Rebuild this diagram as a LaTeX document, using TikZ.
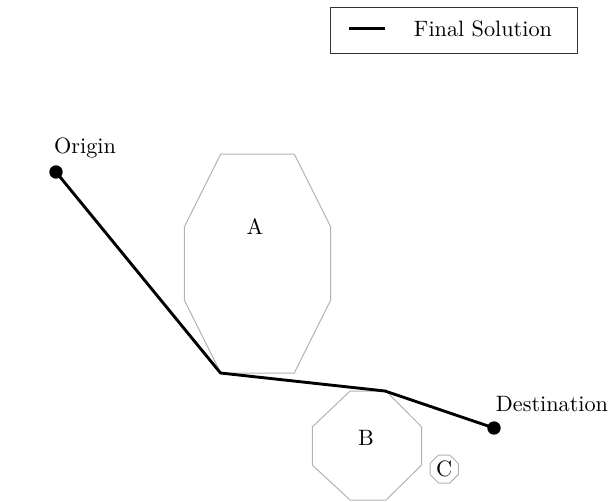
\documentclass[tikz,border=0pt]{standalone}
\begin{document}
\begin{tikzpicture}[x=0.45pt,y=-0.45pt,
  obstacle/.style={draw=black!30, line width=0.45pt},
  solution/.style={line width=1.3pt, line join=round},
  waypoint/.style={circle, fill=black, inner sep=0pt, minimum size=6pt},
  lbl/.style={inner sep=0pt, font=\normalsize}]
\useasboundingbox (0,0) rectangle (611,501);
% legend
\node[draw=black!80, line width=0.45pt, minimum width=246.6*0.45pt, minimum height=46*0.45pt, inner sep=0pt] (legend) at (454,30.3) {};
\coordinate (l1) at (349.3,28.5);
\coordinate (l2) at (385,28.5);
\draw[solution] (l1) -- (l2);
\node[lbl] (legtext) at (483,29) {Final Solution};
% obstacles
\draw[obstacle] (220.7,154) -- (294.3,154) -- (330.7,227) -- (330.7,300) -- (294.3,373) -- (220.7,373) -- (184.3,300) -- (184.3,227) -- cycle;
\node[lbl] (A) at (255,227) {A};
\draw[obstacle] (350,391) -- (386,391) -- (421.7,427) -- (421.7,465) -- (386,500) -- (350,500) -- (312.3,465) -- (312.3,427) -- cycle;
\node[lbl] (B) at (366,438) {B};
\draw[obstacle] (438.5,455) -- (449.8,455) -- (458.3,463.5) -- (458.3,474.5) -- (449.8,483) -- (438.5,483) -- (430,474.5) -- (430,463.5) -- cycle;
\node[lbl] (C) at (444.2,468.5) {C};
% path
\node[waypoint] (origin) at (56,172) {};
\node[waypoint] (dest) at (494,428) {};
\coordinate (w1) at (220.5,373);
\coordinate (w2) at (385,391);
\draw[solution] (origin.center) -- (w1) -- (w2) -- (dest.center);
\node[lbl] (olabel) at (85,148) {Origin};
\node[lbl] (dlabel) at (552,404) {Destination};
\end{tikzpicture}
\end{document}
